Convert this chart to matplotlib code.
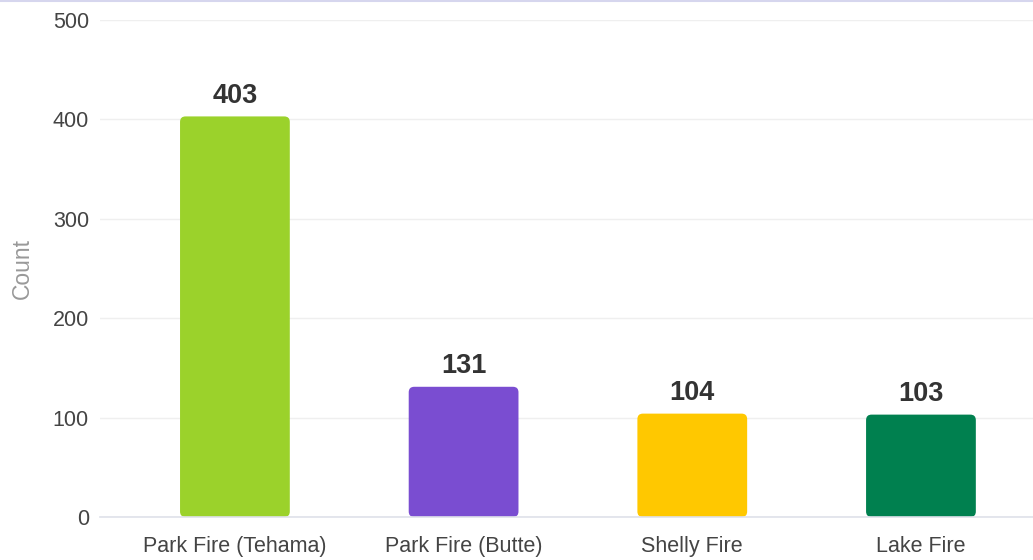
import numpy as np
import matplotlib.pyplot as plt
from matplotlib.patches import FancyBboxPatch
from matplotlib.lines import Line2D

categories = ["Park Fire (Tehama)", "Park Fire (Butte)", "Shelly Fire", "Lake Fire"]
counts = [403, 131, 104, 103]
colors = ["#9BD22B", "#7A4DD1", "#FFC800", "#00804F"]
yticks = [0, 100, 200, 300, 400, 500]

plt.rcParams["font.family"] = ["Liberation Sans", "DejaVu Sans"]

fig = plt.figure(figsize=(10.33, 5.6), dpi=100)
ax = fig.add_axes([100 / 1033, 43 / 560, 933 / 1033, 497 / 560])

x = np.arange(len(categories))
xmin, xmax = -0.59, 3.49
ax.set_xlim(xmin, xmax)
ax.set_ylim(0, 500)

# rounded bars
width = 0.48
px_x = (933) / (xmax - xmin)
px_y = 497 / 500
aspect = px_x / px_y
for xi, v, c in zip(x, counts, colors):
    box = FancyBboxPatch((xi - width / 2, 0), width, v,
                         boxstyle="round,pad=0,rounding_size=0.024",
                         mutation_aspect=aspect, facecolor=c, edgecolor="none",
                         zorder=3)
    ax.add_patch(box)
    ax.annotate(str(v), (xi, v), xytext=(0, 10), textcoords="offset points",
                ha="center", va="baseline", fontsize=19.5, fontweight="bold",
                color="#333333", zorder=4)

ax.set_yticks(yticks)
ax.set_xticks(x)
ax.set_xticklabels(categories)
ax.tick_params(axis="both", length=0, labelsize=15.5, labelcolor="#444444")
ax.tick_params(axis="x", pad=14)
ax.tick_params(axis="y", pad=8)
ax.yaxis.grid(True, color="#efefef", linewidth=1)
ax.set_axisbelow(True)
for s in ["top", "right", "left"]:
    ax.spines[s].set_visible(False)
ax.spines["bottom"].set_color("#dfe1ea")
ax.spines["bottom"].set_linewidth(1.2)
ax.spines["bottom"].set_zorder(5)

fig.text(22 / 1033, 1 - 268 / 560, "Count", rotation=90, ha="center", va="center",
         fontsize=16.5, color="#999999")

# faint top border
fig.add_artist(Line2D([0, 1], [0.998, 0.998], transform=fig.transFigure,
                      color="#d6d6ee", linewidth=1.5))

fig.savefig("out.png", dpi=100)
